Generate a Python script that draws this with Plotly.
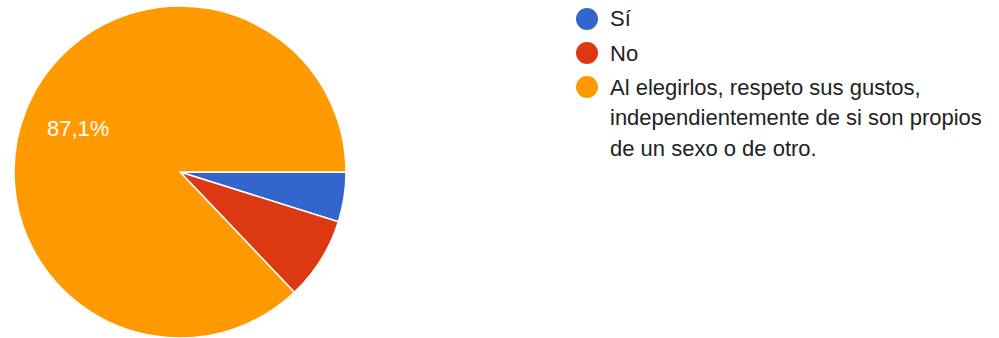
import math
import plotly.graph_objects as go

# Survey answers and response counts
labels = ["Sí", "No",
          "Al elegirlos, respeto sus gustos,<br>independientemente de si son propios<br>de un sexo o de otro."]
counts = [3, 5, 54]
colors = ["#3366cc", "#dc3912", "#ff9900"]
# slices whose share is printed on the pie
labelled = [False, False, True]

W, H = 999, 338
FONT = "Liberation Sans, Arial, sans-serif"

# pie placement in pixels (domain box)
px0, px1 = 14, 346
py_top, py_bot = 6, 338
cx, cy = (px0 + px1) / 2, (py_top + py_bot) / 2
R = min(px1 - px0, py_bot - py_top) / 2

fig = go.Figure()
fig.add_trace(go.Pie(
    labels=labels,
    values=counts,
    sort=False,
    direction="clockwise",
    rotation=90,
    marker=dict(colors=colors, line=dict(color="white", width=1.5)),
    textinfo="none",
    hoverinfo="label+percent",
    showlegend=False,
    domain=dict(x=[px0 / W, px1 / W], y=[1 - py_bot / H, 1 - py_top / H]),
))

# Percentage labels placed at mid-angle of their slice
total = sum(counts)
start = 0.0
for v, show in zip(counts, labelled):
    frac = v / total
    if show:
        mid = math.radians((start + frac / 2) * 360)  # clockwise from 3 o'clock
        lx = cx + 0.67 * R * math.cos(mid)
        ly = cy + 0.67 * R * math.sin(mid)
        txt = f"{frac * 100:.1f}".replace(".", ",") + "%"
        fig.add_annotation(xref="paper", yref="paper",
                           x=lx / W, y=1 - ly / H,
                           xanchor="center", yanchor="middle",
                           text=txt, showarrow=False,
                           font=dict(family=FONT, size=22, color="white"))
    start += frac

# Legend: coloured dots with the answer text beside them
legend_y = [19, 53, 87]
LINE = 30.5
for lab, col, y in zip(labels, colors, legend_y):
    fig.add_shape(type="circle", xref="paper", yref="paper",
                  x0=(587 - 11) / W, x1=(587 + 11) / W,
                  y0=1 - (y + 11) / H, y1=1 - (y - 11) / H,
                  fillcolor=col, line=dict(width=0))
    for i, line in enumerate(lab.split("<br>")):
        fig.add_annotation(xref="paper", yref="paper",
                           x=608 / W, y=1 - (y + i * LINE) / H,
                           xanchor="left", yanchor="middle", align="left",
                           text=line, showarrow=False,
                           font=dict(family=FONT, size=22, color="#222222"))

fig.update_layout(
    width=W, height=H,
    margin=dict(l=0, r=0, t=0, b=0),
    paper_bgcolor="white",
    plot_bgcolor="white",
    separators=", ",
)

fig.write_html("out.html")
